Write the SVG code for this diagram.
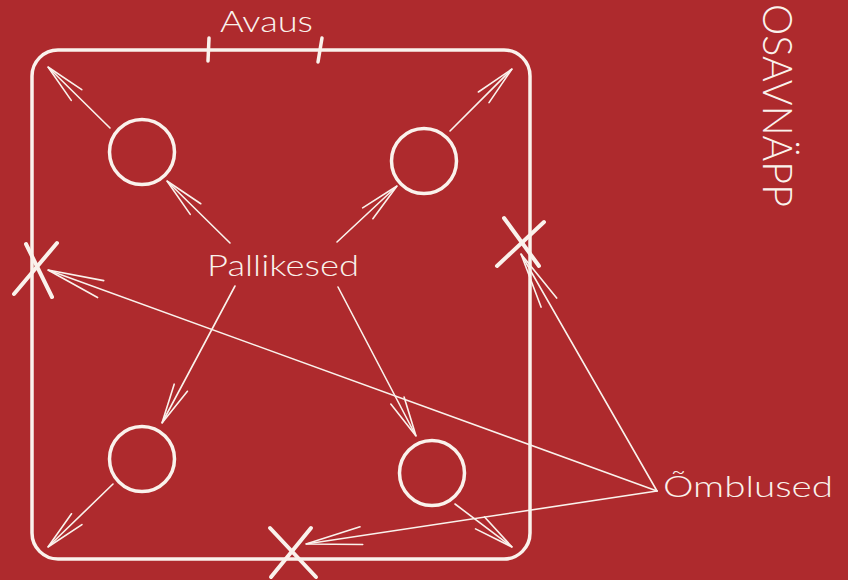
<svg xmlns="http://www.w3.org/2000/svg" width="848" height="580" viewBox="0 0 848 580">
<style>
.bg{fill:#AE2A2D}
.thick{fill:none;stroke:#FAF2EC;stroke-width:3.5;stroke-linecap:round}
.xm{fill:none;stroke:#FAF2EC;stroke-width:4;stroke-linecap:round}
.arr{fill:none;stroke:#FAF2EC;stroke-width:1.6;stroke-linecap:round}
.arrS{marker-end:url(#hS)}
.arrL{marker-end:url(#hL)}
.lbl{fill:#FAF2EC;font-family:"Lato","DejaVu Sans","Liberation Sans",sans-serif;font-weight:300}
</style>
<defs>
<marker id="hS" markerUnits="userSpaceOnUse" orient="auto" refX="0" refY="0" markerWidth="60" markerHeight="30" overflow="visible">
<path d="M-40,-7.5 L0,0 L-40,7.5" fill="none" stroke="#FAF2EC" stroke-width="1.6" stroke-linecap="round"/>
</marker>
<marker id="hL" markerUnits="userSpaceOnUse" orient="auto" refX="0" refY="0" markerWidth="80" markerHeight="30" overflow="visible">
<path d="M-56,-9 L0,0 L-56,9" fill="none" stroke="#FAF2EC" stroke-width="1.6" stroke-linecap="round"/>
</marker>
</defs>
<rect class="bg" x="0" y="0" width="848" height="580"/>
<g id="frame">
<rect class="thick" x="32" y="50" width="498" height="509" rx="26" ry="26"/>
<line class="thick" x1="209" y1="38" x2="208" y2="61"/>
<line class="thick" x1="322" y1="38" x2="318" y2="62"/>
</g>
<g id="label-avaus"><text class="lbl" x="220" y="32" font-size="30" textLength="93" lengthAdjust="spacingAndGlyphs">Avaus</text></g>
<g id="label-osavnapp"><text class="lbl" transform="translate(763,4) rotate(90)" x="0" y="0" font-size="42" textLength="203" lengthAdjust="spacingAndGlyphs">OSAVNÄPP</text></g>
<g id="ball-tl"><circle class="thick" cx="142" cy="152" r="32.5"/></g>
<g id="ball-tr"><circle class="thick" cx="424" cy="161" r="32.5"/></g>
<g id="ball-bl"><circle class="thick" cx="142" cy="459" r="32.5"/></g>
<g id="ball-br"><circle class="thick" cx="432" cy="473" r="32.5"/></g>
<g id="label-pallikesed"><text class="lbl" x="207" y="276" font-size="30" textLength="152" lengthAdjust="spacingAndGlyphs">Pallikesed</text></g>
<g id="label-omblused"><text class="lbl" x="663" y="497" font-size="30" textLength="170" lengthAdjust="spacingAndGlyphs">Õmblused</text></g>
<g id="seam-left"><line class="xm" x1="14" y1="294" x2="57" y2="243"/><line class="xm" x1="26" y1="244" x2="52" y2="297"/></g>
<g id="seam-right"><line class="xm" x1="497" y1="266" x2="544" y2="222"/><line class="xm" x1="504" y1="218" x2="539" y2="266"/></g>
<g id="seam-bottom"><line class="xm" x1="271" y1="577" x2="311" y2="528"/><line class="xm" x1="270" y1="528" x2="316" y2="577"/></g>
<g id="connectors">
<line class="arr arrS" x1="110" y1="128" x2="48" y2="67"/>
<line class="arr arrS" x1="230" y1="243" x2="167" y2="181"/>
<line class="arr arrS" x1="450" y1="131" x2="512" y2="69"/>
<line class="arr arrS" x1="337" y1="242" x2="397" y2="186"/>
<line class="arr arrS" x1="235" y1="286" x2="162" y2="423"/>
<line class="arr arrS" x1="338" y1="287" x2="416" y2="436"/>
<line class="arr arrS" x1="113" y1="484" x2="48" y2="547"/>
<line class="arr arrS" x1="455" y1="504" x2="512" y2="547"/>
<line class="arr arrL" x1="657" y1="491" x2="48" y2="270"/>
<line class="arr arrL" x1="657" y1="491" x2="521" y2="254"/>
<line class="arr arrL" x1="657" y1="491" x2="306" y2="544"/>
</g>
</svg>
